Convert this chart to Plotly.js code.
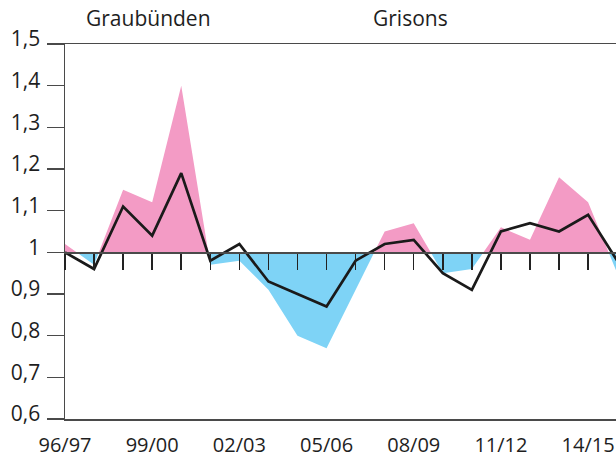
<!DOCTYPE html>
<html>
<head>
<meta charset="utf-8">
<script src="https://cdn.plot.ly/plotly-3.0.1.min.js"></script>
<style>html,body{margin:0;padding:0;background:#fff;}#chart{width:616px;height:457px;}</style>
</head>
<body>
<div id="chart"></div>
<script>
// Seasons (x categories)
const seasons = ['96/97','97/98','98/99','99/00','00/01','01/02','02/03','03/04','04/05','05/06',
                 '06/07','07/08','08/09','09/10','10/11','11/12','12/13','13/14','14/15','15/16'];
// Shaded series (pink above 1, blue below 1)
const areaValues = [1.02,0.97,1.15,1.12,1.40,0.97,0.98,0.91,0.80,0.77,
                    0.91,1.05,1.07,0.95,0.96,1.06,1.03,1.18,1.12,0.95];
// Black line series
const lineValues = [1.00,0.96,1.11,1.04,1.19,0.98,1.02,0.93,0.90,0.87,
                    0.98,1.02,1.03,0.95,0.91,1.05,1.07,1.05,1.09,0.98];
// Labelled ticks on the x axis
const tickLabels = ['96/97','99/00','02/03','05/06','08/09','11/12','14/15'];
const baseline = 1;

const idx = seasons.map((s, i) => i);

// Split the shaded series at the baseline into an "above" and a "below" polygon
function splitPolygon(vals, above) {
  const xs = [0], ys = [baseline];
  for (let i = 0; i < vals.length; i++) {
    const v = vals[i];
    xs.push(i);
    ys.push(above ? Math.max(v, baseline) : Math.min(v, baseline));
    if (i < vals.length - 1) {
      const w = vals[i + 1];
      if ((v - baseline) * (w - baseline) < 0) {
        const t = (baseline - v) / (w - v);
        xs.push(i + t);
        ys.push(baseline);
      }
    }
  }
  xs.push(vals.length - 1); ys.push(baseline);
  return {xs, ys};
}
const pos = splitPolygon(areaValues, true);
const neg = splitPolygon(areaValues, false);

const axisColor = '#4a4a4a';
const textColor = '#1e1e1e';
const fontFam = '"Open Sans", "Noto Sans", sans-serif';

const traces = [
  {x: pos.xs, y: pos.ys, type: 'scatter', mode: 'lines', fill: 'toself',
   fillcolor: '#f39bc5', line: {width: 0}, hoverinfo: 'skip', showlegend: false},
  {x: neg.xs, y: neg.ys, type: 'scatter', mode: 'lines', fill: 'toself',
   fillcolor: '#7ed3f6', line: {width: 0}, hoverinfo: 'skip', showlegend: false},
  {x: idx, y: lineValues, type: 'scatter', mode: 'lines',
   line: {color: '#1a1a1a', width: 2.7}, showlegend: false}
];

const xRange = [0, 18.96];
const layout = {
  width: 616, height: 457,
  margin: {l: 65, r: 0, t: 44, b: 38, pad: 0},
  paper_bgcolor: '#ffffff', plot_bgcolor: '#ffffff',
  separators: ', ',
  font: {family: fontFam, size: 20, color: textColor},
  xaxis: {
    range: xRange, showgrid: false, zeroline: false,
    showline: true, mirror: true, linecolor: axisColor, linewidth: 1.5,
    ticks: '', tickvals: tickLabels.map(l => seasons.indexOf(l)), ticktext: tickLabels,
    tickfont: {family: fontFam, size: 20, color: textColor},
    ticklabelstandoff: 7
  },
  xaxis2: {
    overlaying: 'x', anchor: 'free', position: (baseline - 0.6) / (1.5 - 0.6),
    range: xRange, showgrid: false, zeroline: false,
    showline: true, linecolor: axisColor, linewidth: 1.5,
    ticks: 'outside', ticklen: 16, tickwidth: 1.5, tickcolor: '#222',
    tickmode: 'linear', tick0: 0, dtick: 1, showticklabels: false, side: 'bottom'
  },
  yaxis: {
    range: [0.6, 1.5], showgrid: false, zeroline: false,
    showline: true, linecolor: axisColor, linewidth: 1.5,
    ticks: 'outside', ticklen: 17, tickwidth: 1.5, tickcolor: axisColor,
    tickmode: 'linear', tick0: 0.6, dtick: 0.1,
    tickfont: {family: fontFam, size: 21, color: textColor},
    ticklabelstandoff: 2, ticklabelshift: -5
  },
  annotations: [
    {text: 'Graubünden', xref: 'paper', yref: 'paper', x: (148 - 65) / 551, y: 1.027,
     xanchor: 'center', yanchor: 'bottom', showarrow: false,
     font: {family: fontFam, size: 21, color: textColor}},
    {text: 'Grisons', xref: 'paper', yref: 'paper', x: (410.5 - 65) / 551, y: 1.027,
     xanchor: 'center', yanchor: 'bottom', showarrow: false,
     font: {family: fontFam, size: 21, color: textColor}}
  ]
};
// invisible trace that activates the baseline axis (xaxis2)
traces.push({x: [0], y: [1], xaxis: 'x2', type: 'scatter', mode: 'markers',
  marker: {opacity: 0}, hoverinfo: 'skip', showlegend: false});

Plotly.newPlot('chart', traces, layout, {displayModeBar: false, staticPlot: true});
</script>
</body>
</html>
